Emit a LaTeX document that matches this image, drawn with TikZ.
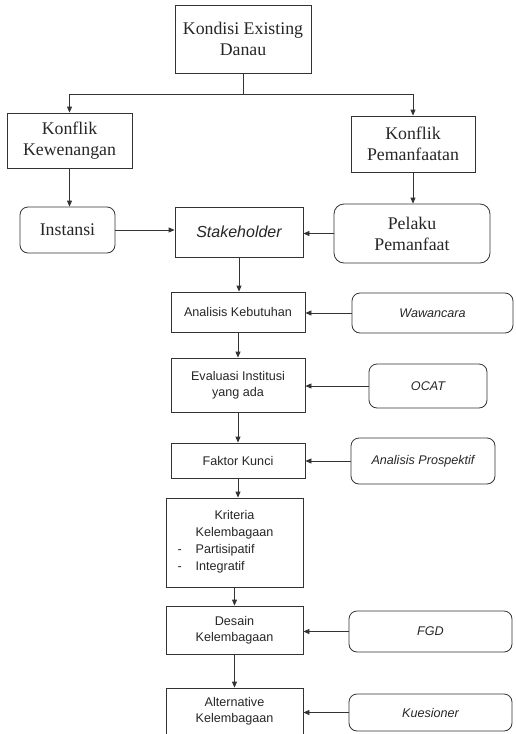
\documentclass[tikz,border=0pt]{standalone}
\usepackage{fontspec}
\setmainfont{Liberation Serif}
\setsansfont{Liberation Sans}
\usetikzlibrary{arrows.meta}

\begin{document}
\begin{tikzpicture}[x=1pt,y=-1pt,
  box/.style={draw=black!80,line width=0.8pt,inner sep=0pt,align=center,text=black!85,
    font=\fontsize{17.8}{21}\selectfont},
  soft/.style={box,rounded corners=8pt},
  stage/.style={box,font=\sffamily\fontsize{12.6}{15.5}\selectfont},
  tool/.style={stage,rounded corners=8pt,font=\sffamily\itshape\fontsize{12.6}{15.5}\selectfont},
  link/.style={draw=black!80,line width=0.8pt,-{Triangle[length=6pt,width=5pt]}}]
\useasboundingbox (0,0) rectangle (515,734);
\node[box,minimum width=136pt,minimum height=68pt] (kondisi) at (243,39) {Kondisi Existing\\Danau};
\node[box,minimum width=125pt,minimum height=55pt] (kewenangan) at (69.5,140.5) {Konflik\\Kewenangan};
\node[box,minimum width=124pt,minimum height=56pt] (pemanfaatan) at (413,144) {Konflik\\Pemanfaatan};
\node[soft,minimum width=95pt,minimum height=46pt] (instansi) at (67.5,230) {Instansi};
\node[box,font=\sffamily\itshape\fontsize{16}{19}\selectfont,minimum width=128pt,minimum height=50pt] (stakeholder) at (239,232) {Stakeholder};
\node[soft,rounded corners=10pt,minimum width=156pt,minimum height=59pt] (pelaku) at (412,233.5) {Pelaku\\Pemanfaat};
\node[stage,minimum width=134pt,minimum height=40pt] (kebutuhan) at (238,312) {Analisis Kebutuhan};
\node[tool,minimum width=161pt,minimum height=40pt] (wawancara) at (432.5,313) {Wawancara};
\node[stage,minimum width=134pt,minimum height=54pt] (evaluasi) at (238,385) {Evaluasi Institusi\\yang ada};
\node[tool,minimum width=118pt,minimum height=44pt] (ocat) at (428,386) {OCAT};
\node[stage,minimum width=134pt,minimum height=35pt] (kunci) at (238,460.5) {Faktor Kunci};
\node[tool,minimum width=144pt,minimum height=46pt] (prospektif) at (423,461) {Analisis Prospektif};
\node[stage,inner sep=2pt,minimum width=137pt,minimum height=89pt] (kriteria) at (234.5,542.5)
  {\parbox[c][84pt][t]{128pt}{\fontsize{12.6}{17}\selectfont\vspace*{10pt}%
   {\centering Kriteria\\Kelembagaan\par}
   \raggedright\hspace*{7pt}-\hspace{14pt}Partisipatif\\\hspace*{7pt}-\hspace{14pt}Integratif}};
\node[stage,minimum width=137pt,minimum height=48pt] (desain) at (234.5,630) {Desain\\Kelembagaan};
\node[tool,minimum width=163pt,minimum height=41pt] (fgd) at (430.5,631.5) {FGD};
\node[stage,minimum width=137pt,minimum height=46pt] (alternatif) at (234.5,711) {Alternative\\Kelembagaan};
\node[tool,minimum width=163pt,minimum height=37pt] (kuesioner) at (430.5,712.5) {Kuesioner};

\draw[link] (kondisi.south) -- ++(0,21) -| (kewenangan.north);
\draw[link] (kondisi.south) -- ++(0,21) -| (pemanfaatan.north);
\draw[link] (kewenangan.south) -- (kewenangan.south |- instansi.north);
\draw[link] (pemanfaatan.south) -- (pemanfaatan.south |- pelaku.north);
\draw[link] (instansi.east) -- (instansi.east -| stakeholder.west);
\draw[link] (pelaku.west) -- (pelaku.west -| stakeholder.east);
\foreach \a/\b in {stakeholder/kebutuhan,kebutuhan/evaluasi,evaluasi/kunci,kunci/kriteria,kriteria/desain,desain/alternatif}
  \draw[link] (\a.south) -- (\a.south |- \b.north);
\foreach \a/\b in {wawancara/kebutuhan,ocat/evaluasi,prospektif/kunci,fgd/desain,kuesioner/alternatif}
  \draw[link] (\a.west) -- (\a.west -| \b.east);
\end{tikzpicture}
\end{document}
